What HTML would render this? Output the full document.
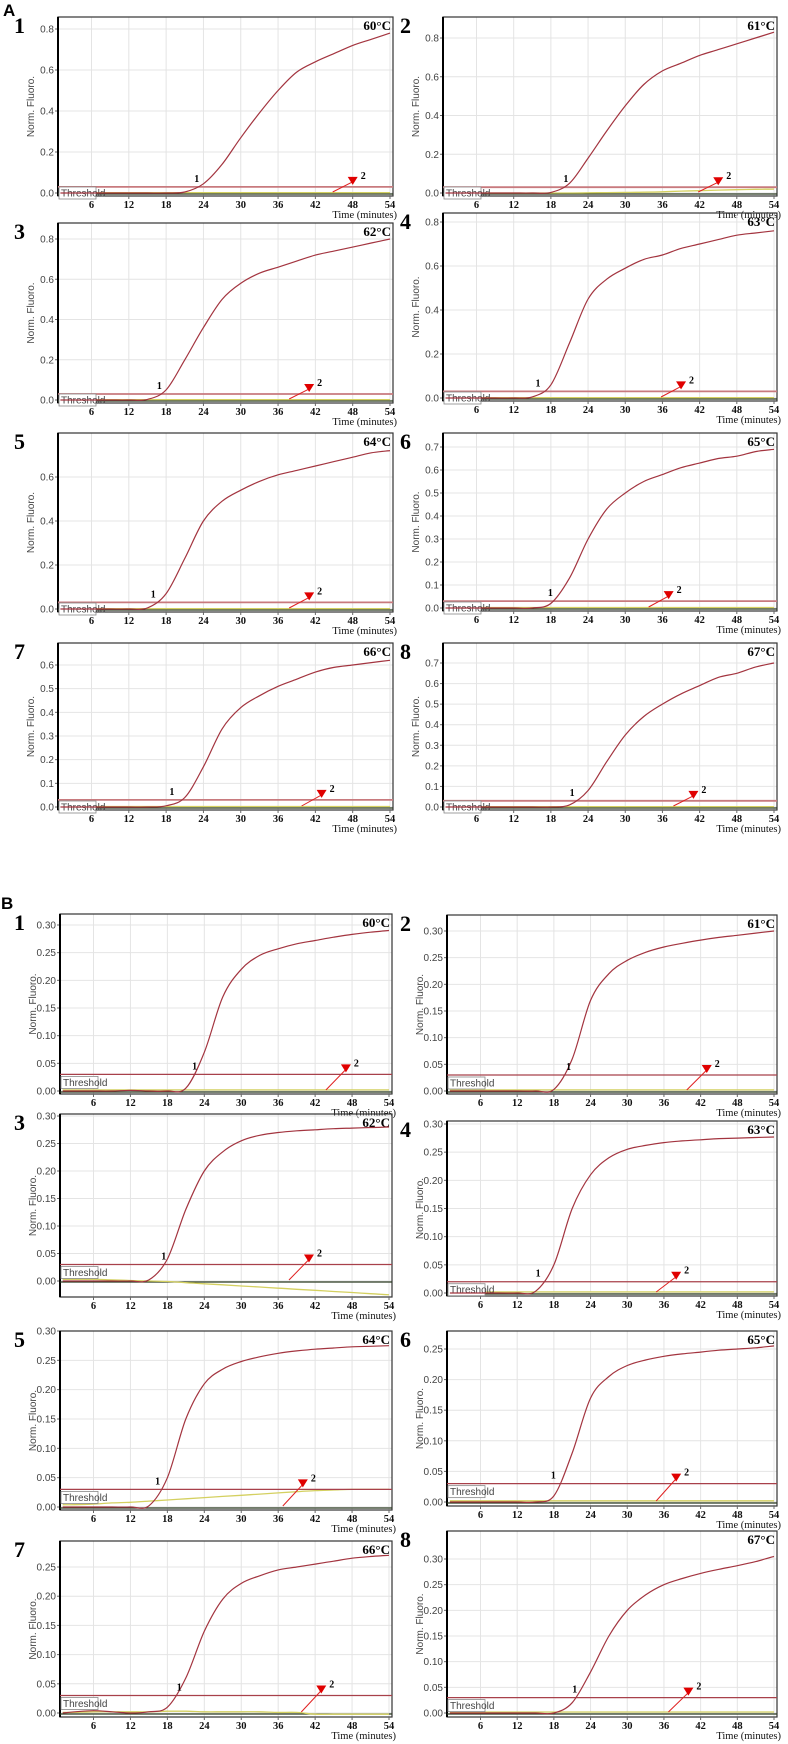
<!DOCTYPE html>
<html><head><meta charset="utf-8">
<style>
html,body{margin:0;padding:0;background:#fff;}
svg{display:block;}
.tk{font-family:"Liberation Sans",sans-serif;font-size:10px;fill:#444;}
.xt{font-family:"Liberation Serif",serif;font-size:10.5px;font-weight:bold;fill:#111;}
.tm{font-family:"Liberation Serif",serif;font-size:10.5px;fill:#111;}
.num{font-family:"Liberation Serif",serif;font-size:22px;font-weight:bold;fill:#000;}
.temp{font-family:"Liberation Serif",serif;font-size:13px;font-weight:bold;fill:#000;}
.lbl{font-family:"Liberation Serif",serif;font-size:10px;font-weight:bold;fill:#000;}
</style></head>
<body>
<svg id="fig" width="788" height="1744" viewBox="0 0 788 1744" xmlns="http://www.w3.org/2000/svg">
<text x="3" y="16" font-family="Liberation Sans,sans-serif" font-size="17" font-weight="bold">A</text>
<text x="1" y="909" font-family="Liberation Sans,sans-serif" font-size="17" font-weight="bold">B</text>
</svg>
<script>
const times = [0,3,6,9,12,15,18,21,24,27,30,33,36,39,42,45,48,51,54];
const xTicks = [6,12,18,24,30,36,42,48,54];
const curveA1 = [0,0,0,0,0,0,0,0.005,0.045,0.14,0.27,0.39,0.5,0.59,0.64,0.68,0.72,0.75,0.78];
const curveA2 = [0,0,0,0,0,0,0.003,0.05,0.18,0.32,0.45,0.56,0.63,0.67,0.71,0.74,0.77,0.80,0.83];
const curveA3 = [0,0,0,0,0,0.003,0.05,0.2,0.36,0.5,0.58,0.63,0.66,0.69,0.72,0.74,0.76,0.78,0.8];
const curveA4 = [0,0,0,0,0,0.005,0.06,0.25,0.45,0.54,0.59,0.63,0.65,0.68,0.7,0.72,0.74,0.75,0.76];
const curveA5 = [0,0,0,0,0,0.005,0.07,0.23,0.4,0.49,0.54,0.58,0.61,0.63,0.65,0.67,0.69,0.71,0.72];
const curveA6 = [0,0,0,0,0,0,0.02,0.13,0.3,0.43,0.5,0.55,0.58,0.61,0.63,0.65,0.66,0.68,0.69];
const curveA7 = [0,0,0,0,0,0,0.005,0.04,0.17,0.33,0.42,0.47,0.51,0.54,0.57,0.59,0.6,0.61,0.62];
const curveA8 = [0,0,0,0,0,0,0,0.01,0.08,0.22,0.35,0.44,0.5,0.55,0.59,0.63,0.65,0.68,0.7];
const curveB1 = [0,0,0,0,0.001,0,0,0.005,0.07,0.17,0.22,0.245,0.257,0.266,0.272,0.278,0.283,0.287,0.29];
const curveB2 = [0,0,0,0,0,0,0.003,0.06,0.17,0.22,0.245,0.26,0.27,0.277,0.283,0.288,0.292,0.296,0.3];
const curveB3 = [0,0,0,0,0,0.002,0.04,0.13,0.2,0.235,0.255,0.265,0.27,0.273,0.275,0.277,0.278,0.279,0.28];
const curveB4 = [0,0,0,0,0,0.003,0.05,0.15,0.21,0.24,0.255,0.262,0.267,0.27,0.272,0.274,0.275,0.276,0.277];
const curveB5 = [0,0,0,0,0,0.002,0.05,0.15,0.21,0.235,0.248,0.256,0.262,0.266,0.269,0.271,0.273,0.274,0.275];
const curveB6 = [0,0,0,0,0,0,0.01,0.08,0.17,0.205,0.223,0.232,0.238,0.242,0.245,0.248,0.25,0.252,0.255];
const curveB7 = [0,0.002,0.004,0.002,0,0.002,0.01,0.06,0.14,0.195,0.222,0.235,0.245,0.25,0.255,0.26,0.265,0.268,0.27];
const curveB8 = [0,0,0,0,0,0,0,0.02,0.08,0.15,0.2,0.23,0.25,0.262,0.272,0.28,0.287,0.295,0.305];
const negFlat = [0.002,0.002,0.002,0.002,0.002,0.002,0.002,0.002,0.002,0.002,0.002,0.002,0.002,0.002,0.002,0.002,0.002,0.002,0.002];
const negA2 = [0,0,0,0,0,0,0,0,0.001,0.002,0.003,0.004,0.006,0.01,0.012,0.015,0.017,0.019,0.02];
const negB3 = [0.003,0.003,0.003,0.002,0.001,0,-0.001,-0.003,-0.005,-0.007,-0.009,-0.011,-0.013,-0.015,-0.017,-0.019,-0.021,-0.023,-0.025];
const negB5 = [0.004,0.004,0.005,0.007,0.008,0.01,0.012,0.014,0.016,0.018,0.02,0.022,0.024,0.026,0.028,0.029,0.03,0.03,0.03];
const negB7 = [0.001,0.001,0.002,0.002,0.002,0.002,0.003,0.003,0.002,0.002,0.002,0.002,0.001,0.001,-0.002,-0.002,-0.002,-0.002,-0.002];
const ticksA08 = [0,0.2,0.4,0.6,0.8];
const ticksA06 = [0,0.2,0.4,0.6];
const ticksA07 = [0,0.1,0.2,0.3,0.4,0.5,0.6,0.7];
const ticksA7 = [0,0.1,0.2,0.3,0.4,0.5,0.6];
const ticksB30 = [0,0.05,0.10,0.15,0.20,0.25,0.30];
const ticksB25 = [0,0.05,0.10,0.15,0.20,0.25];
const tempLabels = ["60°C","61°C","62°C","63°C","64°C","65°C","66°C","67°C"];
const thresholdsA = [0.03,0.03,0.03,0.03,0.03,0.03,0.03,0.03];
const thresholdsB = [0.03,0.03,0.03,0.02,0.03,0.03,0.03,0.03];
const markTimes1A = [23,20.5,17,16,16,18,19,21.5];
const markTimes1B = [22.5,20.5,17.5,15.5,16.5,18,20,21.5];
const arrowTimesA = [48,45,41,39,41,37,43,41];
const arrowTimesB = [47,43,41,38,40,38,43,40];

// layout (not data)
const layout = [
 {sec:'A',n:1,L:58,R:393,top:17,bot:196,y0:193,rv:0.8,rp:29,ticks:ticksA08,dec:1,c:curveA1,neg:negFlat},
 {sec:'A',n:2,L:443,R:777,top:17,bot:196,y0:193,rv:0.8,rp:38,ticks:ticksA08,dec:1,c:curveA2,neg:negA2},
 {sec:'A',n:3,L:58,R:393,top:223,bot:403,y0:400,rv:0.8,rp:239,ticks:ticksA08,dec:1,c:curveA3,neg:negFlat},
 {sec:'A',n:4,L:443,R:777,top:213,bot:401,y0:398,rv:0.8,rp:222,ticks:ticksA08,dec:1,c:curveA4,neg:negFlat},
 {sec:'A',n:5,L:58,R:393,top:433,bot:612,y0:609,rv:0.6,rp:477,ticks:ticksA06,dec:1,c:curveA5,neg:negFlat},
 {sec:'A',n:6,L:443,R:777,top:433,bot:611,y0:608,rv:0.7,rp:447,ticks:ticksA07,dec:1,c:curveA6,neg:negFlat},
 {sec:'A',n:7,L:58,R:393,top:643,bot:810,y0:807,rv:0.6,rp:665,ticks:ticksA7,dec:1,c:curveA7,neg:negFlat},
 {sec:'A',n:8,L:443,R:777,top:643,bot:810,y0:807,rv:0.7,rp:663,ticks:ticksA07,dec:1,c:curveA8,neg:negFlat},
 {sec:'B',n:1,L:60,R:392,top:914,bot:1094,y0:1091,rv:0.30,rp:925,ticks:ticksB30,dec:2,c:curveB1,neg:negFlat},
 {sec:'B',n:2,L:447,R:777,top:915,bot:1094,y0:1091,rv:0.30,rp:931,ticks:ticksB30,dec:2,c:curveB2,neg:negFlat},
 {sec:'B',n:3,L:60,R:392,top:1114,bot:1297,y0:1281,rv:0.30,rp:1116,ticks:ticksB30,dec:2,c:curveB3,neg:negB3},
 {sec:'B',n:4,L:447,R:777,top:1121,bot:1296,y0:1293,rv:0.30,rp:1124,ticks:ticksB30,dec:2,c:curveB4,neg:negFlat},
 {sec:'B',n:5,L:60,R:392,top:1331,bot:1510,y0:1507,rv:0.30,rp:1331,ticks:ticksB30,dec:2,c:curveB5,neg:negB5},
 {sec:'B',n:6,L:447,R:777,top:1331,bot:1506,y0:1502,rv:0.25,rp:1349,ticks:ticksB25,dec:2,c:curveB6,neg:negFlat},
 {sec:'B',n:7,L:60,R:392,top:1541,bot:1717,y0:1713,rv:0.25,rp:1567,ticks:ticksB25,dec:2,c:curveB7,neg:negB7},
 {sec:'B',n:8,L:447,R:777,top:1531,bot:1717,y0:1713,rv:0.30,rp:1559,ticks:ticksB30,dec:2,c:curveB8,neg:negFlat}
];

const NS='http://www.w3.org/2000/svg';
const svg=document.getElementById('fig');
function mk(tag,attrs,parent){const e=document.createElementNS(NS,tag);for(const k in attrs)e.setAttribute(k,attrs[k]);(parent||svg).appendChild(e);return e;}
function smooth(pts){
  let d='M'+pts[0][0].toFixed(1)+','+pts[0][1].toFixed(1);
  for(let i=0;i<pts.length-1;i++){
    const p0=pts[Math.max(0,i-1)],p1=pts[i],p2=pts[i+1],p3=pts[Math.min(pts.length-1,i+2)];
    const c1=[p1[0]+(p2[0]-p0[0])/6,p1[1]+(p2[1]-p0[1])/6];
    const c2=[p2[0]-(p3[0]-p1[0])/6,p2[1]-(p3[1]-p1[1])/6];
    d+=' C'+c1[0].toFixed(1)+','+c1[1].toFixed(1)+' '+c2[0].toFixed(1)+','+c2[1].toFixed(1)+' '+p2[0].toFixed(1)+','+p2[1].toFixed(1);
  }
  return d;
}

layout.forEach(p=>{
  const idx=p.n-1;
  const key=(p.sec+p.n).toLowerCase();
  const g=mk('g',{});
  
  
  const X6=p.L+33.5, X54=p.R-3;
  const xs=t=>X6+(t-6)*(X54-X6)/48;
  const ys=v=>p.y0-(v/p.rv)*(p.y0-p.rp);
  xTicks.forEach(t=>{const l=mk('line',{x1:xs(t),x2:xs(t),y1:p.top,y2:p.bot,stroke:'#e4e4e4','stroke-width':1},g);
    
    });
  p.ticks.forEach(v=>{const yy=ys(v);
    const l=mk('line',{x1:p.L,x2:p.R,y1:yy,y2:yy,stroke:'#e4e4e4','stroke-width':1},g);
    
    
    const tk=mk('line',{x1:p.L-3,x2:p.L,y1:yy,y2:yy,stroke:'#666','stroke-width':1},g);
    
    
    const t=mk('text',{x:p.L-4,y:yy+3.5,'text-anchor':'end',class:'tk'},g);
    t.textContent=v.toFixed(p.dec);
    
    });
  const box=mk('rect',{x:p.L,y:p.top,width:p.R-p.L,height:p.bot-p.top,fill:'none',stroke:'#333','stroke-width':1.2},g);
  
  
  const lb=mk('line',{x1:p.L,x2:p.L,y1:p.top,y2:p.bot,stroke:'#000','stroke-width':2},g);
  
  
  xTicks.forEach(t=>{
    const tk=mk('line',{x1:xs(t),x2:xs(t),y1:p.bot,y2:p.bot+3,stroke:'#666','stroke-width':1},g);
    
    
    const tx=mk('text',{x:xs(t),y:p.bot+12,'text-anchor':'middle',class:'xt'},g);
    tx.textContent=String(t);
    
    
  });
  const tm=mk('text',{x:p.R+4,y:p.bot+22,'text-anchor':'end',class:'tm'},g);
  tm.textContent='Time (minutes)';
  
  
  const cy=(p.top+p.bot)/2;
  const ya=mk('text',{x:p.L-24,y:cy,transform:'rotate(-90 '+(p.L-24)+' '+cy+')','text-anchor':'middle',class:'tk'},g);
  ya.textContent='Norm. Fluoro.';
  
  
  const nx=p.L<200?14:400;
  const nm=mk('text',{x:nx,y:p.top+16,class:'num'},g);
  nm.textContent=String(p.n);
  
  
  const tp=mk('text',{x:p.R-2,y:p.top+13,'text-anchor':'end',class:'temp'},g);
  tp.textContent=tempLabels[idx];
  
  
  const bl=mk('line',{x1:p.L,x2:p.R,y1:ys(0)+1,y2:ys(0)+1,stroke:'#2a3a20','stroke-width':1.2},g);
  
  
  const np=times.map((t,i)=>[xs(Math.max(t,1)),ys(p.neg[i])]);
  const ny=mk('path',{d:smooth(np),fill:'none',stroke:'#d4d060','stroke-width':1.3},g);
  
  
  const th=p.sec==='A'?thresholdsA[idx]:thresholdsB[idx];
  const thl=mk('line',{x1:p.L,x2:p.R,y1:ys(th),y2:ys(th),stroke:p.sec==='A'?'#c87a7e':'#a8404a','stroke-width':p.sec==='A'?1.8:1.2},g);
  
  
  const tby=p.sec==='A'?ys(0)-6:ys(th)+2;
  const tb=mk('rect',{x:p.L+1,y:tby,width:37,height:12,fill:'#fff',stroke:'#888','stroke-width':0.8},g);
  
  
  const tt=mk('text',{x:p.L+3,y:tby+9.5,class:'tk'},g);
  tt.setAttribute('font-size','9');
  tt.textContent='Threshold';
  
  
  const pts=times.map((t,i)=>[xs(Math.max(t,1)),ys(p.c[i])]);
  const cv=mk('path',{d:smooth(pts),fill:'none',stroke:'#a3343f','stroke-width':1.2},g);
  
  
  const m1=p.sec==='A'?markTimes1A[idx]:markTimes1B[idx];
  const l1=mk('text',{x:xs(m1)-3,y:ys(th)-5,class:'lbl'},g);
  l1.textContent='1';
  
  
  const at=p.sec==='A'?arrowTimesA[idx]:arrowTimesB[idx];
  const ax=xs(at), ay=ys(th)-5;
  const al=mk('line',{x1:ax-20,x2:ax,y1:ys(0)-1,y2:ay,stroke:'#e02020','stroke-width':1},g);
  
  
  const tri=mk('polygon',{points:(ax-5)+','+(ay-5)+' '+(ax+5)+','+(ay-5)+' '+ax+','+(ay+3),fill:'#e00000'},g);
  
  
  const l2=mk('text',{x:ax+8,y:ay-3,class:'lbl'},g);
  l2.textContent='2';
  
  
});
</script>
</body></html>
